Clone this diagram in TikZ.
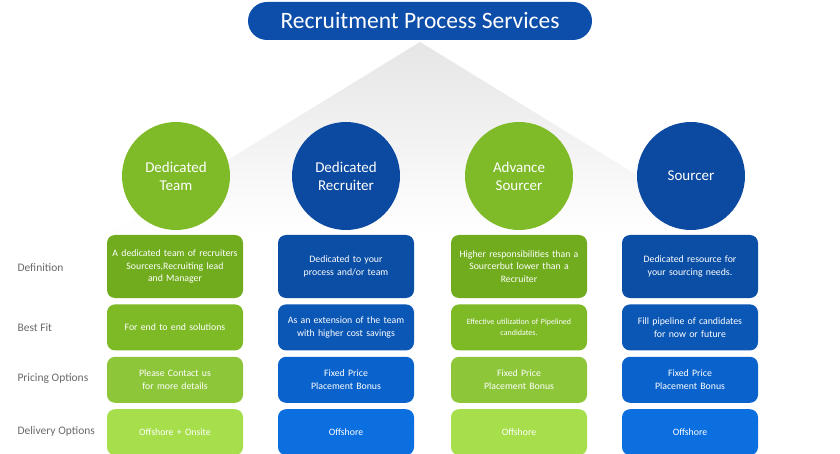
\documentclass[tikz,border=0pt]{standalone}
\usepackage{fontspec}
\setmainfont{Carlito}
\usepackage{tikz}
\usetikzlibrary{positioning}

\definecolor{titleblue}{HTML}{0C4EA9}
\definecolor{ballgreen}{HTML}{7FBB29}
\definecolor{ballblue}{HTML}{0B4AA0}
\definecolor{grnA}{HTML}{71AC1E}
\definecolor{grnB}{HTML}{7EBA26}
\definecolor{grnC}{HTML}{8EC63A}
\definecolor{grnD}{HTML}{A6DF4B}
\definecolor{bluA}{HTML}{0B4EA6}
\definecolor{bluB}{HTML}{0B57B6}
\definecolor{bluC}{HTML}{0A63CC}
\definecolor{bluD}{HTML}{0B6FE0}
\definecolor{labelgray}{HTML}{6A6A6A}

\begin{document}
\begin{tikzpicture}[x=1pt, y=-1pt, node distance=6pt,
 cell/.style={rounded corners=8pt, align=center, text=white, inner sep=2pt,
   text width=130pt, minimum width=136pt, font=\fontsize{9.8}{12.8}\selectfont},
 defcell/.style={cell, minimum height=63pt},
 rowcell/.style={cell, minimum height=46pt},
 ball/.style={circle, minimum size=108pt, inner sep=0pt, align=center, text=white,
   font=\fontsize{15}{18}\selectfont},
 rowlabel/.style={anchor=west, text=labelgray, font=\fontsize{11.5}{13}\selectfont}]
\useasboundingbox (0,0) rectangle (840,454);
\fill[white] (0,0) rectangle (840,454);

% roof behind the circles
\shade[top color=gray!20, bottom color=white] (420,42) -- (736,236) -- (104,236) -- cycle;

% title
\node[fill=titleblue, rounded corners=19pt, minimum width=344pt, minimum height=38pt,
  text=white, font=\fontsize{23.5}{27}\selectfont] (title) at (420,21) {Recruitment Process Services};

% circles
\node[ball, fill=ballgreen] (team) at (176,176) {Dedicated\\Team};
\node[ball, fill=ballblue] (recruiter) at (346,176) {Dedicated\\Recruiter};
\node[ball, fill=ballgreen] (advance) at (519,176) {Advance\\Sourcer};
\node[ball, fill=ballblue] (sourcer) at (691,176) {Sourcer};

% column 1
\node[defcell, fill=grnA] (teamdef) at (175,266.5) {A dedicated team of recruiters\\Sourcers,Recruiting lead\\and Manager};
\node[rowcell, fill=grnB, below=of teamdef] (teamfit) {For end to end solutions};
\node[rowcell, fill=grnC, below=of teamfit] (teamprice) {Please Contact us\\for more details};
\node[rowcell, fill=grnD, below=of teamprice] (teamdeliv) {Offshore + Onsite};

% column 2
\node[defcell, fill=bluA] (recdef) at (346,266.5) {Dedicated to your\\process and/or team};
\node[rowcell, fill=bluB, below=of recdef] (recfit) {As an extension of the team\\with higher cost savings};
\node[rowcell, fill=bluC, below=of recfit] (recprice) {Fixed Price\\Placement Bonus};
\node[rowcell, fill=bluD, below=of recprice] (recdeliv) {Offshore};

% column 3
\node[defcell, fill=grnA] (advdef) at (519,266.5) {Higher responsibilities than a\\Sourcerbut lower than a\\Recruiter};
\node[rowcell, fill=grnB, below=of advdef, font=\fontsize{8}{11}\selectfont] (advfit) {Effective utilization of Pipelined\\candidates.};
\node[rowcell, fill=grnC, below=of advfit] (advprice) {Fixed Price\\Placement Bonus};
\node[rowcell, fill=grnD, below=of advprice] (advdeliv) {Offshore};

% column 4
\node[defcell, fill=bluA] (srcdef) at (690,266.5) {Dedicated resource for\\your sourcing needs.};
\node[rowcell, fill=bluB, below=of srcdef] (srcfit) {Fill pipeline of candidates\\for now or future};
\node[rowcell, fill=bluC, below=of srcfit] (srcprice) {Fixed Price\\Placement Bonus};
\node[rowcell, fill=bluD, below=of srcprice] (srcdeliv) {Offshore};

% row labels
\node[rowlabel] (lbldef) at (14,268) {Definition};
\node[rowlabel] (lblfit) at (14,328) {Best Fit};
\node[rowlabel] (lblprice) at (14,379) {Pricing Options};
\node[rowlabel] (lbldeliv) at (14,431) {Delivery Options};
\end{tikzpicture}
\end{document}
